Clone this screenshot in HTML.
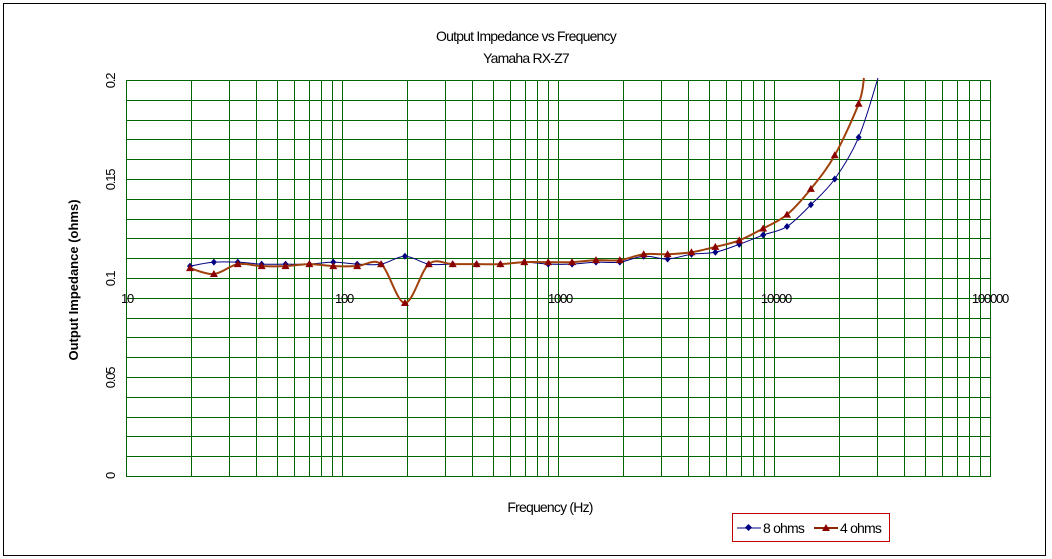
<!DOCTYPE html>
<html><head><meta charset="utf-8"><style>
html,body{margin:0;padding:0;background:#fff;}
svg{display:block;font-family:"Liberation Sans",Arial,sans-serif;}
</style></head><body>
<svg id="s" width="1052" height="559" xmlns="http://www.w3.org/2000/svg">
<rect x="3.5" y="3.5" width="1042" height="552" fill="#fff" stroke="#000" stroke-width="1"/>
<g id="grid" stroke="#006400" stroke-width="1" fill="none"></g>
<text x="526" y="41" font-size="14" text-anchor="middle" letter-spacing="-0.8">Output Impedance  vs Frequency</text>
<text x="526" y="63" font-size="14" text-anchor="middle" letter-spacing="-0.8">Yamaha RX-Z7</text>
<text x="550" y="512" font-size="14" text-anchor="middle" letter-spacing="-0.8">Frequency (Hz)</text>
<text transform="translate(78,280) rotate(-90)" font-size="13" font-weight="bold" text-anchor="middle">Output Impedance (ohms)</text>
<g font-size="13" text-anchor="middle" letter-spacing="-1.2">
<text transform="translate(115,81) rotate(-90)">0.2</text>
<text transform="translate(115,180) rotate(-90)">0.15</text>
<text transform="translate(115,279) rotate(-90)">0.1</text>
<text transform="translate(115,378) rotate(-90)">0.05</text>
<text transform="translate(115,476) rotate(-90)">0</text>
<text x="127" y="303">10</text>
<text x="344" y="303">100</text>
<text x="560" y="303">1000</text>
<text x="776" y="303">10000</text>
<text x="990" y="303">100000</text>
</g>
<g id="series"></g>
<rect x="732.5" y="513.5" width="157" height="28" fill="#fff" stroke="#c00000"/>
<line x1="737" y1="528" x2="761" y2="528" stroke="#000080"/>
<rect x="746" y="525" width="5" height="5" fill="#000080" transform="rotate(45 748.5 527.5)"/>
<text x="763" y="533" font-size="14" letter-spacing="-0.8">8 ohms</text>
<line x1="814" y1="528" x2="838" y2="528" stroke="#8b2500" stroke-width="2"/>
<polygon points="826,524 830,531 822,531" fill="#8b0000"/>
<text x="840" y="533" font-size="14" letter-spacing="-0.8">4 ohms</text>
</svg>
<script>
var NS="http://www.w3.org/2000/svg";
var g=document.getElementById('grid');
function Y(v){return 80+(0.2-v)*1980;}
function L(x1,y1,x2,y2){var l=document.createElementNS(NS,'line');l.setAttribute('x1',x1);l.setAttribute('y1',y1);l.setAttribute('x2',x2);l.setAttribute('y2',y2);g.appendChild(l);}
for(var i=0;i<=20;i++){var y=Math.round(Y(i*0.01))+0.5;L(126,y,990,y);}
for(var d=0;d<4;d++)for(var k=1;k<=10;k++){if(k==10&&d<3)continue;var x=Math.round(126+216*(d+Math.log10(k)))+0.5;L(x,80,x,477);}
var xs=[];for(var i=0;i<29;i++)xs.push(190+i*23.88);
var blue=[.106,.108,.108,.107,.107,.107,.108,.107,.107,.111,.107,.107,.107,.107,.108,.107,.107,.108,.108,.111,.1096,.112,.113,.117,.1217,.126,.137,.150,.171];
var red=[.105,.102,.107,.106,.106,.107,.106,.106,.107,.0874,.107,.107,.107,.107,.108,.108,.108,.109,.109,.112,.112,.113,.1157,.119,.125,.132,.145,.162,.188];
function path(pts){var d='M'+pts[0][0]+','+pts[0][1];for(var i=0;i<pts.length-1;i++){var p0=pts[Math.max(0,i-1)],p1=pts[i],p2=pts[i+1],p3=pts[Math.min(pts.length-1,i+2)];var c1=[p1[0]+(p2[0]-p0[0])/6,p1[1]+(p2[1]-p0[1])/6],c2=[p2[0]-(p3[0]-p1[0])/6,p2[1]-(p3[1]-p1[1])/6];d+='C'+c1+' '+c2+' '+p2;}return d;}
var s=document.getElementById('series');
function series(vals,end,col,w,marker){var pts=vals.map(function(v,i){return [xs[i],Y(v)];});pts.push(end);var p=document.createElementNS(NS,'path');p.setAttribute('d',path(pts));p.setAttribute('fill','none');p.setAttribute('stroke',col);p.setAttribute('stroke-width',w);s.appendChild(p);
vals.forEach(function(v,i){var x=xs[i],y=Y(v),m;if(marker=='d'){m=document.createElementNS(NS,'polygon');m.setAttribute('points',(x)+','+(y-3.5)+' '+(x+3)+','+y+' '+x+','+(y+3.5)+' '+(x-3)+','+y);m.setAttribute('fill','#000080');}else{m=document.createElementNS(NS,'polygon');m.setAttribute('points',x+','+(y-4)+' '+(x+4)+','+(y+3)+' '+(x-4)+','+(y+3));m.setAttribute('fill','#8b0000');}s.appendChild(m);});}
series(blue,[878,78],'#000080',1,'d');
series(red,[864,78],'#a0400a',2,'t');
</script>
</body></html>
